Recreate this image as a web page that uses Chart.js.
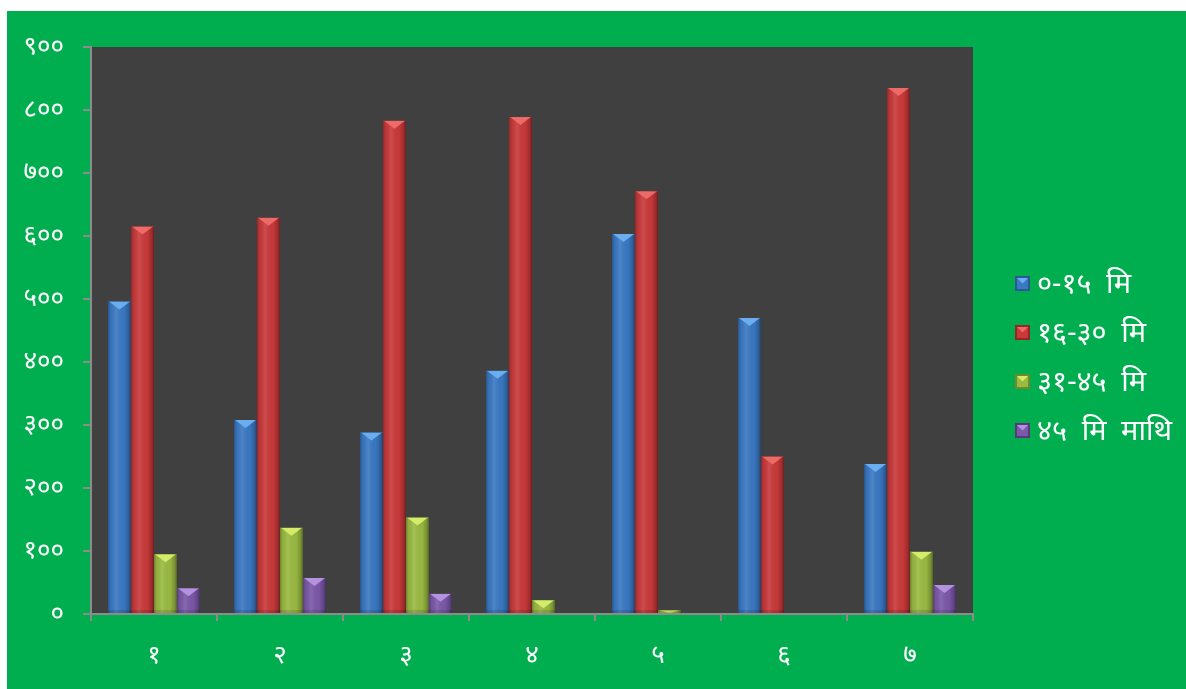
<!DOCTYPE html>
<html>
<head>
<meta charset="utf-8">
<script src="https://cdn.jsdelivr.net/npm/chart.js@4.4.0/dist/chart.umd.min.js"></script>
<style>
    html, body { margin: 0; padding: 0; background: #fff; }
    #wrap { position: absolute; left: 7px; top: 11px; width: 1179px; height: 678px; background: #00ae4f; }
</style>
</head>
<body>
<div id="wrap"><canvas id="barChart"></canvas></div>
<script>
// DATA
const categories   = ['१', '२', '३', '४', '५', '६', '७'];
const seriesLabels = ['०-१५ मि', '१६-३० मि', '३१-४५ मि', '४५ मि माथि'];
const min0to15     = [496, 308, 288, 386, 603, 470, 238];
const min16to30    = [615, 629, 783, 789, 671, 250, 835];
const min31to45    = [95, 137, 153, 22, 6, 0, 99];
const minOver45    = [41, 57, 32, 0, 0, 0, 46];
const yTickLabels  = ['०', '१००', '२००', '३००', '४००', '५००', '६००', '७००', '८००', '९००'];

// colours: base, light (top bevel), dark (edges)
const palette = [
    { base: '#3a78c2', light: '#6aaef0', dark: '#2a5a96' },
    { base: '#c9393a', light: '#ec6a68', dark: '#962526' },
    { base: '#9aba42', light: '#d4ec6a', dark: '#6f8a2a' },
    { base: '#7b58a8', light: '#b592e0', dark: '#563a7c' }
];

const FONT = "'Noto Sans', 'Noto Sans Devanagari', sans-serif";

// plot background
const plotBg = {
    id: 'plotBg',
    beforeDraw(chart) {
        const { ctx, chartArea: a } = chart;
        ctx.save();
        ctx.fillStyle = '#404040';
        ctx.fillRect(a.left, a.top, a.right - a.left, a.bottom - a.top);
        ctx.restore();
    }
};

// bevel shading on top of each bar
const bevel = {
    id: 'bevel',
    afterDatasetsDraw(chart) {
        const ctx = chart.ctx;
        chart.data.datasets.forEach((ds, di) => {
            const pal = palette[di];
            chart.getDatasetMeta(di).data.forEach(bar => {
                const { x, y, base, width } = bar.getProps(['x', 'y', 'base', 'width'], true);
                const h = base - y;
                if (h < 1) return;
                const l = x - width / 2, r = x + width / 2;
                ctx.save();
                ctx.beginPath();
                ctx.rect(l, y, width, h);
                ctx.clip();
                const g = ctx.createLinearGradient(l, 0, r, 0);
                g.addColorStop(0, 'rgba(0,0,0,0.28)');
                g.addColorStop(0.12, 'rgba(0,0,0,0.05)');
                g.addColorStop(0.35, 'rgba(255,255,255,0.10)');
                g.addColorStop(0.7, 'rgba(0,0,0,0.02)');
                g.addColorStop(0.9, 'rgba(0,0,0,0.22)');
                g.addColorStop(1, 'rgba(0,0,0,0.45)');
                ctx.fillStyle = g;
                ctx.fillRect(l, y, width, h);
                // top chevron
                const d = Math.min(8, h);
                ctx.fillStyle = pal.light;
                ctx.beginPath();
                ctx.moveTo(l + 1, y);
                ctx.lineTo(r - 1, y);
                ctx.lineTo(x, y + d);
                ctx.closePath();
                ctx.fill();
                ctx.fillStyle = 'rgba(0,0,0,0.12)';
                ctx.fillRect(l, base - 3, width, 3);
                ctx.restore();
            });
        });
    }
};

// legend on the right
const sideLegend = {
    id: 'sideLegend',
    afterDraw(chart) {
        const { ctx, chartArea: a } = chart;
        const x0 = a.right + 42;
        const y0 = a.top + 237;
        ctx.save();
        ctx.font = '29px ' + FONT;
        ctx.textBaseline = 'middle';
        if ('wordSpacing' in ctx) ctx.wordSpacing = '7px';
        chart.data.datasets.forEach((ds, i) => {
            const pal = palette[i];
            const cy = y0 + i * 49;
            const bx = x0, by = cy - 8, s = 15;
            ctx.fillStyle = pal.dark;
            ctx.fillRect(bx, by, s, s);
            ctx.fillStyle = pal.base;
            ctx.fillRect(bx + 2, by + 2, s - 4, s - 4);
            ctx.fillStyle = pal.light;
            ctx.beginPath();
            ctx.moveTo(bx + 2, by + 2);
            ctx.lineTo(bx + s - 2, by + 2);
            ctx.lineTo(bx + s / 2, by + s / 2);
            ctx.closePath();
            ctx.fill();
            ctx.fillStyle = '#ffffff';
            ctx.fillText(ds.label, x0 + 22, cy + 1);
        });
        ctx.restore();
    }
};

const seriesData = [min0to15, min16to30, min31to45, minOver45];

new Chart(document.getElementById('barChart'), {
    type: 'bar',
    data: {
        labels: categories,
        datasets: seriesData.map((d, i) => ({
            label: seriesLabels[i],
            data: d,
            backgroundColor: palette[i].base,
            borderWidth: 0
        }))
    },
    options: {
        responsive: true,
        maintainAspectRatio: false,
        animation: false,
        categoryPercentage: 0.73,
        barPercentage: 1.0,
        layout: { padding: { top: 36, right: 213, left: 0, bottom: 0 } },
        plugins: {
            legend: { display: false },
            tooltip: { enabled: false }
        },
        scales: {
            x: {
                grid: { drawOnChartArea: false, tickLength: 7, color: '#8c8c8c', lineWidth: 2 },
                border: { color: '#8c8c8c', width: 2 },
                ticks: { color: '#ffffff', font: { family: FONT, size: 26 }, padding: 19, maxRotation: 0 },
                afterFit: s => { s.height = 75; }
            },
            y: {
                min: 0,
                max: 900,
                grid: { drawOnChartArea: false, tickLength: 8, color: '#8c8c8c', lineWidth: 2 },
                border: { color: '#8c8c8c', width: 2 },
                ticks: {
                    stepSize: 100,
                    color: '#ffffff',
                    font: { family: FONT, size: 26 },
                    padding: 19,
                    callback: (v, i) => yTickLabels[i]
                },
                afterFit: s => { s.width = 84; }
            }
        }
    },
    plugins: [plotBg, bevel, sideLegend]
});
</script>
</body>
</html>
